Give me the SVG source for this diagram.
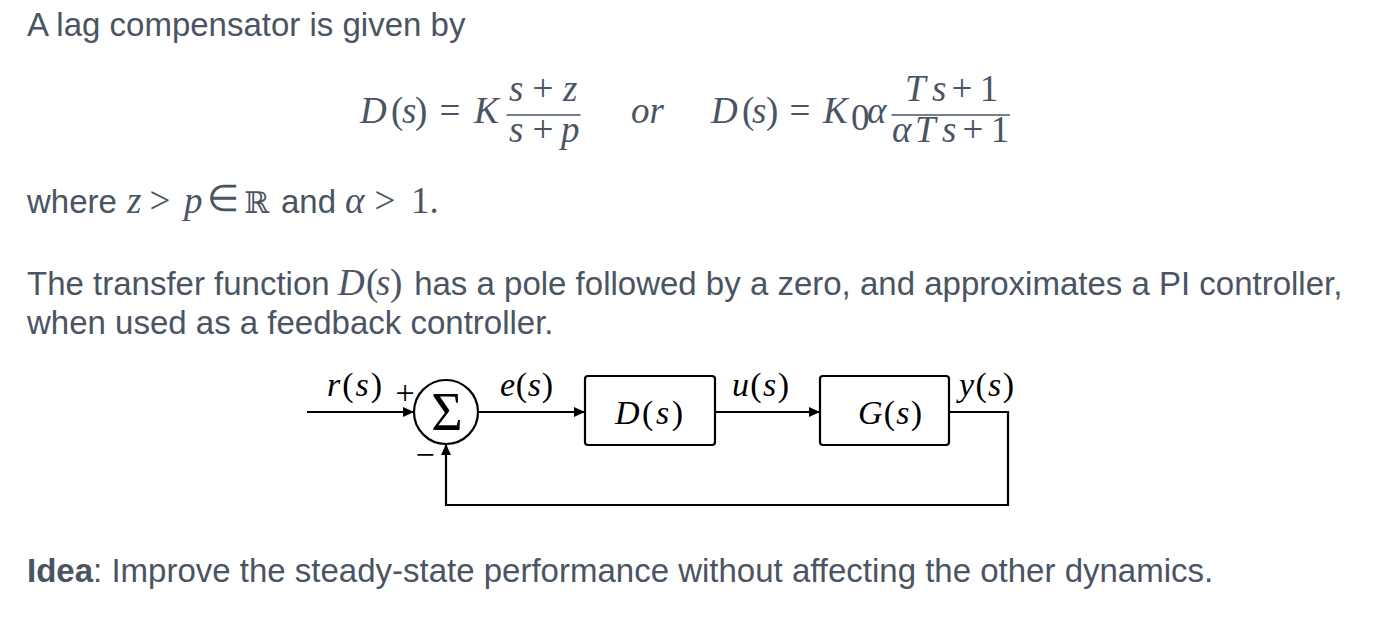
<svg xmlns="http://www.w3.org/2000/svg" width="1374" height="623" viewBox="0 0 1374 623">
<style>
.body{font-family:"Liberation Sans",Arial,sans-serif;font-size:33px;fill:#4a5463}
.m{font-family:"Liberation Serif","Times New Roman",serif;font-size:37px;fill:#4a5463}
.mi{font-style:italic}
.lbl{font-family:"Liberation Serif","Times New Roman",serif;font-size:34px;fill:#000}
.box{fill:#fff;stroke:#000;stroke-width:2.2}
.wire{fill:none;stroke:#000;stroke-width:2.2}
.bar{stroke:#4a5463;stroke-width:1.4}
</style>
<defs>
<marker id="arr" markerUnits="userSpaceOnUse" markerWidth="12" markerHeight="10" refX="11" refY="5" orient="auto">
<path d="M0,0 L11,5 L0,10 z" fill="#000"/>
</marker>
</defs>
<rect width="1374" height="623" fill="#fff"/>

<g id="text">
<text class="body" x="27" y="36">A lag compensator is given by</text>

<g id="eq1">
<text class="m" y="123"><tspan class="mi" x="360">D</tspan><tspan x="391">(</tspan><tspan class="mi" x="402">s</tspan><tspan x="415">)</tspan></text>
<text class="m" x="450" y="123" text-anchor="middle" font-size="40">=</text>
<text class="m mi" x="474" y="123">K</text>
<text class="m mi" x="509" y="101">s</text>
<text class="m" x="543" y="101" text-anchor="middle" font-size="40">+</text>
<text class="m mi" x="563" y="101">z</text>
<line class="bar" x1="506.5" y1="115" x2="580.5" y2="115"/>
<text class="m mi" x="509" y="142">s</text>
<text class="m" x="543" y="142" text-anchor="middle" font-size="40">+</text>
<text class="m mi" x="561" y="142">p</text>
<text class="m mi" x="631" y="123">or</text>
</g>

<g id="eq2">
<text class="m" y="123"><tspan class="mi" x="711">D</tspan><tspan x="742">(</tspan><tspan class="mi" x="752">s</tspan><tspan x="766">)</tspan></text>
<text class="m" x="800" y="123" text-anchor="middle" font-size="40">=</text>
<text class="m mi" x="823" y="123">K</text>
<text class="m" x="851" y="130" font-size="25">0</text>
<text class="m mi" x="867" y="123">α</text>
<text class="m mi" x="905" y="101">T</text>
<text class="m mi" x="932" y="101">s</text>
<text class="m" x="962" y="101" text-anchor="middle" font-size="40">+</text>
<text class="m" x="989" y="101" text-anchor="middle">1</text>
<line class="bar" x1="891.5" y1="115" x2="1010" y2="115"/>
<text class="m mi" x="892" y="142">α</text>
<text class="m mi" x="915" y="142">T</text>
<text class="m mi" x="942" y="142">s</text>
<text class="m" x="973" y="142" text-anchor="middle" font-size="40">+</text>
<text class="m" x="1000" y="142" text-anchor="middle">1</text>
</g>

<g id="where">
<text class="body" x="27" y="213">where</text>
<text class="m mi" x="127" y="213" font-size="34">z</text>
<text class="m" x="160" y="213" text-anchor="middle" font-size="34">&gt;</text>
<text class="m mi" x="184" y="213" font-size="34">p</text>
<text class="m" x="223" y="211" text-anchor="middle" font-size="26">∈</text>
<text x="244" y="213" style="font-family:'DejaVu Serif',serif;font-size:30px;fill:#4a5463">ℝ</text>
<text class="body" x="281" y="213">and</text>
<text class="m mi" x="345" y="213" font-size="34">α</text>
<text class="m" x="385" y="213" text-anchor="middle" font-size="34">&gt;</text>
<text class="m" x="411" y="213" font-size="34">1.</text>
</g>

<text class="body" x="27" y="295">The transfer function <tspan class="m mi" x="338" font-size="35">D</tspan><tspan class="m" x="366" font-size="35">(</tspan><tspan class="m mi" x="376" font-size="35">s</tspan><tspan class="m" x="390" font-size="35">)</tspan><tspan x="405"> has a pole followed by a zero, and approximates a PI controller,</tspan></text>
<text class="body" x="27" y="334">when used as a feedback controller.</text>

<text class="body" x="27" y="582"><tspan font-weight="bold">Idea</tspan>: Improve the steady-state performance without affecting the other dynamics.</text>
</g>

<g id="connectors">
<path class="wire" d="M307,412 H414" marker-end="url(#arr)"/>
<path class="wire" d="M478,412 H585" marker-end="url(#arr)"/>
<path class="wire" d="M715,412 H820" marker-end="url(#arr)"/>
<path class="wire" d="M949,412 H1008 V505 H446 V444" marker-end="url(#arr)"/>
</g>

<g id="node-sum">
<circle cx="446" cy="412" r="32" fill="#fff" stroke="#000" stroke-width="2.2"/>
<text x="447" y="430" text-anchor="middle" style="font-family:'Liberation Serif',serif;font-size:54px;fill:#000">Σ</text>
</g>
<g id="node-D">
<rect class="box" x="585" y="376" width="130" height="69" rx="3"/>
<text class="lbl" x="615" y="424" textLength="68" lengthAdjust="spacing"><tspan class="mi">D</tspan>(<tspan class="mi">s</tspan>)</text>
</g>
<g id="node-G">
<rect class="box" x="820" y="376" width="129" height="69" rx="3"/>
<text class="lbl" x="858" y="424" textLength="64" lengthAdjust="spacing"><tspan class="mi">G</tspan>(<tspan class="mi">s</tspan>)</text>
</g>

<g id="labels">
<text class="lbl" x="327" y="396" textLength="55" lengthAdjust="spacing"><tspan class="mi">r</tspan>(<tspan class="mi">s</tspan>)</text>
<text class="lbl" x="405" y="404" text-anchor="middle" font-size="36">+</text>
<text class="lbl" x="425" y="466" text-anchor="middle" font-size="36">−</text>
<text class="lbl" x="500" y="396" textLength="53" lengthAdjust="spacing"><tspan class="mi">e</tspan>(<tspan class="mi">s</tspan>)</text>
<text class="lbl" x="732" y="396" textLength="57" lengthAdjust="spacing"><tspan class="mi">u</tspan>(<tspan class="mi">s</tspan>)</text>
<text class="lbl" x="959" y="396" textLength="55" lengthAdjust="spacing"><tspan class="mi">y</tspan>(<tspan class="mi">s</tspan>)</text>
</g>
</svg>
